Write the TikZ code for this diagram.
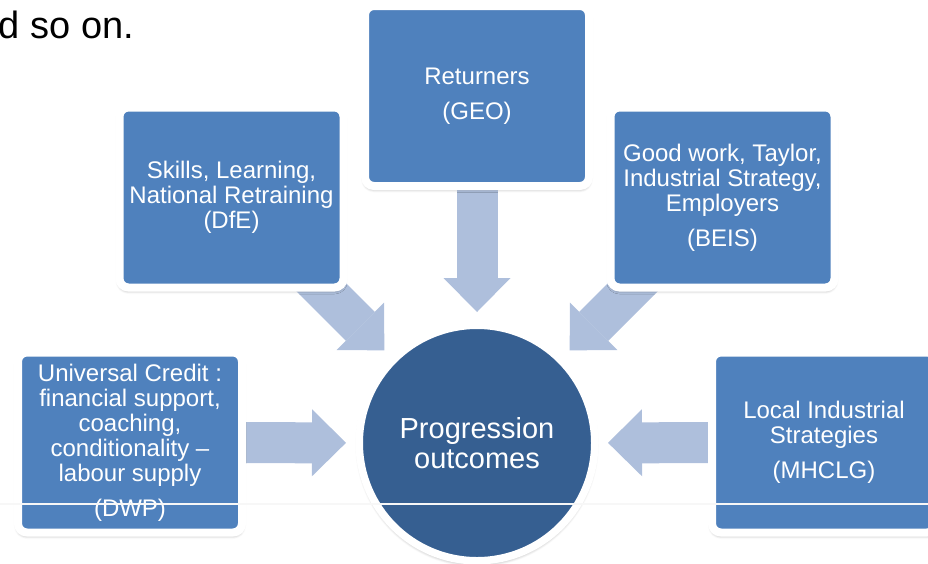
\documentclass[tikz,border=0pt]{standalone}
\usepackage{fontspec}
\setmainfont{Liberation Sans}
\usetikzlibrary{arrows.meta,shadows.blur}

\definecolor{boxblue}{HTML}{4F81BD}
\definecolor{hubblue}{HTML}{365F91}
\definecolor{flowblue}{HTML}{AEBFDC}

\tikzset{
  softshadow/.style={blur shadow={shadow xshift=0pt, shadow yshift=-2.5pt,
      shadow blur steps=8, shadow blur radius=4pt, shadow opacity=45}},
  agency/.style={rectangle, rounded corners=9pt, fill=boxblue, draw=white,
    line width=8pt, minimum width=224pt, minimum height=180pt, inner sep=0pt,
    align=center, text=white, font=\fontsize{24}{25}\selectfont, softshadow},
  hubnode/.style={circle, fill=hubblue, draw=white, line width=7.5pt,
    minimum size=235.5pt, inner sep=0pt, align=center, text=white,
    font=\fontsize{29}{30}\selectfont},
  flow/.style={draw=flowblue, line width=41pt,
    -{Triangle[width=67pt, length=34pt, line width=0pt]}, shorten >=9.5pt},
  rule/.style={draw=white!94!gray, line width=1.5pt},
}

\begin{document}
\begin{tikzpicture}[x=1pt, y=-1pt]
  \useasboundingbox (0,0) rectangle (928,563);

  % trailing sentence from the slide text above
  \node[anchor=base west, inner sep=0pt, font=\fontsize{38}{40}\selectfont]
    (lead) at (-1.5,38) {d so on.};

  % positions of the hub and the five contributing bodies
  \coordinate (hubpos) at (477,443);
  \path (477,96)      coordinate (geopos)
        (231.5,197.5) coordinate (dfepos)
        (722.5,197.5) coordinate (beispos)
        (130,442.5)   coordinate (dwppos)
        (824,442.5)   coordinate (mhclgpos);

  % invisible outline of the hub so the arrows can be laid down first
  \node[hubnode, draw=none, fill=none] (hub) at (hubpos) {};

  % block arrows feeding the hub
  \draw[flow] (geopos)   -- (hub);
  \draw[flow] (dfepos)   -- (hub);
  \draw[flow] (beispos)  -- (hub);
  \draw[flow] (dwppos)   -- (hub);
  \draw[flow] (mhclgpos) -- (hub);

  % contributing bodies
  \node[agency] (geo) at (geopos) {Returners\\[10pt](GEO)};
  \node[agency] (dfe) at (dfepos) {Skills, Learning,\\National Retraining\\(DfE)};
  \node[agency] (beis) at (beispos) {Good work, Taylor,\\Industrial Strategy,\\Employers\\[10pt](BEIS)};
  \node[agency] (dwp) at (dwppos) {Universal Credit :\\financial support,\\coaching,\\conditionality --\\labour supply\\[10pt](DWP)};
  \node[agency] (mhclg) at (mhclgpos) {Local Industrial\\Strategies\\[10pt](MHCLG)};

  % the hub itself
  \node[hubnode, softshadow] (hubdisc) at (hubpos) {Progression\\outcomes};

  % thin rule running across the slide
  \coordinate (ruleL) at (0,504);
  \coordinate (ruleR) at (928,504);
  \draw[rule] (ruleL) -- (ruleR);
\end{tikzpicture}
\end{document}
